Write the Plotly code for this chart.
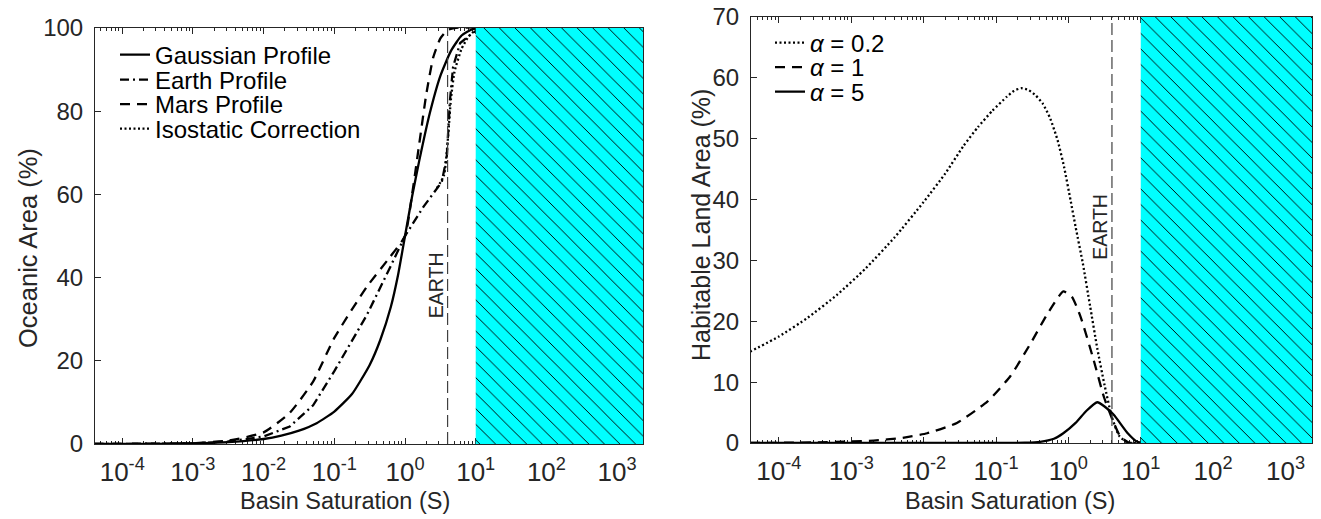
import plotly.graph_objects as go

FONT = "Liberation Sans, Arial, Helvetica, sans-serif"
INK = "#262626"

# ---------------- data: left panel (log10 S, oceanic area %) ----------------
gauss_logS = [-4.4, -3.5, -3.0, -2.5, -2.0, -1.75, -1.5, -1.25, -1.0, -0.75, -0.5, -0.35, -0.2, -0.1, 0.0, 0.1, 0.2, 0.35, 0.5, 0.65, 0.8, 0.95, 1.1, 3.4]
gauss_pct  = [0.0, 0.05, 0.15, 0.45, 1.2, 2.0, 3.2, 5.0, 7.8, 12.0, 19.0, 25.0, 33.0, 40.5, 50.0, 59.5, 68.0, 79.5, 88.5, 94.5, 98.2, 99.7, 100.0, 100.0]

earth_logS = [-4.4, -3.0, -2.5, -2.0, -1.63, -1.3, -1.0, -0.54, -0.21, 0.0, 0.26, 0.52, 0.59, 0.636, 0.68, 0.78, 0.97, 1.1, 3.4]
earth_pct  = [0.0, 0.15, 0.6, 1.8, 4.2, 9.3, 17.5, 31.0, 42.5, 50.0, 57.0, 63.0, 69.0, 82.7, 90.7, 96.4, 99.0, 100.0, 100.0]

mars_logS = [-4.4, -3.0, -2.5, -2.0, -1.63, -1.3, -1.0, -0.54, -0.21, 0.0, 0.1, 0.2, 0.3, 0.4, 0.5, 0.6, 0.7, 3.4]
mars_pct  = [0.0, 0.2, 0.8, 2.8, 7.5, 15.0, 25.5, 37.8, 45.0, 50.0, 60.0, 72.0, 84.0, 93.0, 97.5, 99.5, 100.0, 100.0]

iso_logS = [0.45, 0.55, 0.6, 0.65, 0.7, 0.8, 0.9, 1.0, 1.15, 3.4]
iso_pct  = [61.5, 64.5, 72.0, 83.0, 89.5, 95.0, 98.0, 99.5, 100.0, 100.0]

# ---------------- data: right panel (log10 S, habitable land area %) ----------------
a02_logS = [-4.4, -4.0, -3.6, -3.2, -2.8, -2.4, -2.0, -1.7, -1.45, -1.25, -1.05, -0.85, -0.75, -0.65, -0.55, -0.45, -0.35, -0.25, -0.15, -0.06, 0.03, 0.1, 0.2, 0.3, 0.4, 0.5, 0.6, 0.7, 0.8, 0.9, 3.4]
a02_pct  = [15.0, 17.5, 20.6, 24.3, 28.7, 33.8, 39.6, 44.3, 48.8, 51.9, 54.6, 56.9, 57.9, 58.3, 58.0, 57.1, 55.7, 53.3, 49.8, 45.4, 39.9, 35.5, 29.5, 22.5, 15.5, 9.5, 4.3, 1.2, 0.2, 0.0, 0.0]

a1_logS = [-4.4, -3.5, -3.0, -2.69, -2.32, -1.95, -1.54, -1.12, -0.8, -0.52, -0.3, -0.07, 0.05, 0.17, 0.35, 0.49, 0.61, 0.72, 0.85, 3.4]
a1_pct  = [0.0, 0.1, 0.25, 0.4, 0.8, 1.6, 3.3, 6.8, 11.0, 16.4, 21.0, 24.9, 24.0, 20.7, 13.6, 7.6, 3.8, 1.0, 0.0, 0.0]

a5_logS = [-4.4, -1.0, -0.6, -0.39, -0.2, -0.07, 0.1, 0.25, 0.4, 0.5, 0.63, 0.82, 0.95, 1.05, 3.4]
a5_pct  = [0.0, 0.0, 0.05, 0.2, 0.7, 1.6, 3.3, 5.3, 6.7, 6.0, 4.6, 1.6, 0.2, 0.0, 0.0]

# reference markers
earth_S = 4.0          # present-day Earth basin saturation
saturated_S = 10.0     # start of fully saturated (hatched) regime
x_log_range = [-4.385, 3.366]
left_ymax = 100
right_ymax = 70

tick_exps = [-4, -3, -2, -1, 0, 1, 2, 3]
tick_vals = [10.0 ** e for e in tick_exps]
tick_text = [f"10<sup>{e}</sup>" for e in tick_exps]
minor_vals = [m * 10.0 ** e for e in range(-5, 4) for m in range(2, 10)]

x_max = 10 ** x_log_range[1]


def S(logs):
    return [10.0 ** v for v in logs]


W, H = 1321, 519
fig = go.Figure()

LW = 2.3
DOT = "2px,2.5px"
DASH = "10px,7px"
DASHDOT = "9px,4px,2px,4px"
HATCH = dict(shape="\\", fgcolor="black", bgcolor="#00FFFF", size=11, solidity=0.085)

# ---- left panel curves ----
fig.add_trace(go.Scatter(x=S(gauss_logS), y=gauss_pct, mode="lines", name="Gaussian Profile",
                         line=dict(color="black", width=LW, shape="spline", smoothing=0.5),
                         xaxis="x", yaxis="y", legend="legend"))
fig.add_trace(go.Scatter(x=S(earth_logS), y=earth_pct, mode="lines", name="Earth Profile",
                         line=dict(color="black", width=LW, dash=DASHDOT),
                         xaxis="x", yaxis="y", legend="legend2"))
fig.add_trace(go.Scatter(x=S(mars_logS), y=mars_pct, mode="lines", name="Mars Profile",
                         line=dict(color="black", width=LW, dash=DASH, shape="spline", smoothing=0.5),
                         xaxis="x", yaxis="y", legend="legend3"))
fig.add_trace(go.Scatter(x=S(iso_logS), y=iso_pct, mode="lines", name="Isostatic Correction",
                         line=dict(color="black", width=LW, dash=DOT, shape="spline", smoothing=0.5),
                         xaxis="x", yaxis="y", legend="legend4"))
fig.add_trace(go.Scatter(x=[earth_S, earth_S], y=[0, left_ymax], mode="lines", showlegend=False,
                         line=dict(color="#404040", width=1.2, dash="12px,5px"), xaxis="x", yaxis="y"))
fig.add_trace(go.Scatter(x=[saturated_S, x_max, x_max, saturated_S, saturated_S],
                         y=[0, 0, left_ymax, left_ymax, 0], mode="lines", fill="toself",
                         fillcolor="#00FFFF", line=dict(width=0), showlegend=False,
                         fillpattern=HATCH, xaxis="x", yaxis="y", hoverinfo="skip"))

# ---- right panel curves ----
fig.add_trace(go.Scatter(x=S(a02_logS), y=a02_pct, mode="lines", name="<i>α</i> = 0.2",
                         line=dict(color="black", width=LW, dash=DOT, shape="spline", smoothing=0.5),
                         xaxis="x2", yaxis="y2", legend="legend5"))
fig.add_trace(go.Scatter(x=S(a1_logS), y=a1_pct, mode="lines", name="<i>α</i> = 1",
                         line=dict(color="black", width=LW, dash=DASH, shape="spline", smoothing=0.5),
                         xaxis="x2", yaxis="y2", legend="legend6"))
fig.add_trace(go.Scatter(x=S(a5_logS), y=a5_pct, mode="lines", name="<i>α</i> = 5",
                         line=dict(color="black", width=LW, shape="spline", smoothing=0.5),
                         xaxis="x2", yaxis="y2", legend="legend7"))
fig.add_trace(go.Scatter(x=[earth_S, earth_S], y=[0, right_ymax], mode="lines", showlegend=False,
                         line=dict(color="#404040", width=1.2, dash="12px,5px"), xaxis="x2", yaxis="y2"))
fig.add_trace(go.Scatter(x=[saturated_S, x_max, x_max, saturated_S, saturated_S],
                         y=[0, 0, right_ymax, right_ymax, 0], mode="lines", fill="toself",
                         fillcolor="#00FFFF", line=dict(width=0), showlegend=False,
                         fillpattern=HATCH, xaxis="x2", yaxis="y2", hoverinfo="skip"))

common_x = dict(type="log", range=x_log_range, showline=True, linecolor=INK, linewidth=1, mirror="ticks",
                ticks="inside", ticklen=6, tickcolor=INK, showgrid=False, zeroline=False, automargin=False,
                tickmode="array", tickvals=tick_vals, ticktext=tick_text, ticklabelstandoff=5,
                minor=dict(ticks="inside", ticklen=3, tickcolor=INK, tickmode="array", tickvals=minor_vals, showgrid=False),
                tickfont=dict(family=FONT, size=26, color=INK), layer="below traces")
common_y = dict(showline=True, linecolor=INK, linewidth=1, mirror="ticks", ticks="inside", ticklen=6,
                tickcolor=INK, showgrid=False, zeroline=False, automargin=False, ticklabelstandoff=6,
                tickfont=dict(family=FONT, size=24, color=INK), layer="below traces")


def leg(xpx, ypx):
    return dict(x=xpx / W, y=1 - ypx / H, xanchor="left", yanchor="middle", bgcolor="rgba(0,0,0,0)",
                font=dict(family=FONT, size=24, color="black"), borderwidth=0)


def title_ann(text, xpx, ypx, angle=0, size=23.5):
    return dict(text=text, x=xpx / W, y=1 - ypx / H, xref="paper", yref="paper", showarrow=False,
                textangle=angle, xanchor="center", yanchor="middle",
                font=dict(family=FONT, size=size, color=INK))


fig.update_layout(
    template="none",
    width=W, height=H, margin=dict(l=0, r=0, t=0, b=0, pad=0),
    paper_bgcolor="white", plot_bgcolor="white",
    font=dict(family=FONT, color=INK),
    xaxis=dict(common_x, domain=[95 / W, 643 / W], anchor="y"),
    yaxis=dict(common_y, domain=[1 - 444 / H, 1 - 28 / H], anchor="x", range=[0, left_ymax], dtick=20),
    xaxis2=dict(common_x, domain=[751 / W, 1312 / W], anchor="y2"),
    yaxis2=dict(common_y, domain=[1 - 443 / H, 1 - 17 / H], anchor="x2", range=[0, right_ymax], dtick=10),
    legend=leg(115, 55),
    legend2=leg(115, 80),
    legend3=leg(115, 104.5),
    legend4=leg(115, 129),
    legend5=leg(770, 43),
    legend6=leg(770, 67.5),
    legend7=leg(770, 92),
    annotations=[
        dict(text="EARTH", x=0.602, y=38.2, xref="x", yref="y", showarrow=False, textangle=-90,
             xshift=-11.5, font=dict(family=FONT, size=19.5, color=INK)),
        dict(text="EARTH", x=0.602, y=35.6, xref="x2", yref="y2", showarrow=False, textangle=-90,
             xshift=-11.5, font=dict(family=FONT, size=19.5, color=INK)),
        title_ann("Basin Saturation (S)", 345, 501),
        title_ann("Basin Saturation (S)", 1010, 501),
        title_ann("Oceanic Area (%)", 28, 248, angle=-90, size=25.5),
        title_ann("Habitable Land Area (%)", 701, 225, angle=-90, size=25),
    ],
    showlegend=True,
)

fig.write_html("out.html")
